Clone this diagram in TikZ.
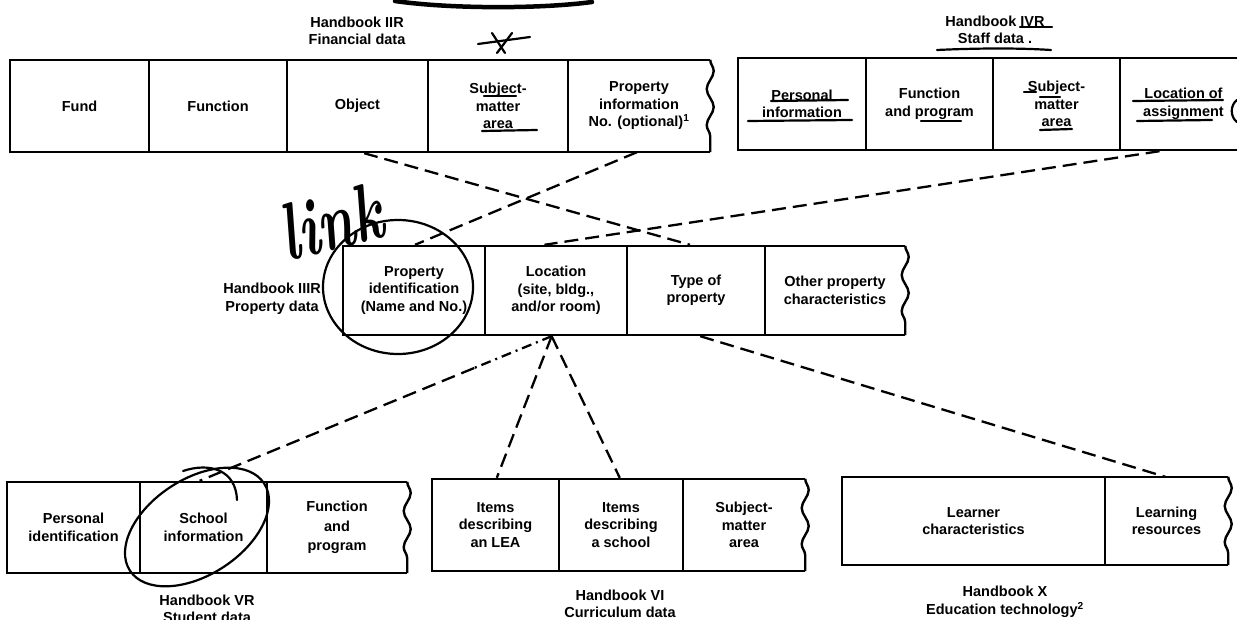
\documentclass[tikz,border=0pt]{standalone}
\usepackage{fontspec}
\setsansfont{Liberation Sans}
\usetikzlibrary{calc,decorations.pathmorphing}

\tikzset{
  lbl/.style={font=\sffamily\bfseries\fontsize{14.5}{17.5}\selectfont, align=center, inner sep=0pt},
  cell/.style={lbl, draw, line width=2.4pt},
  opencell/.style={lbl},
  rim/.style={line width=2.4pt, line join=miter},
  waveedge/.style={line width=2.4pt, decorate, decoration={snake, segment length=36pt, amplitude=3.5pt}},
  dashlink/.style={line width=2.3pt, dash pattern=on 14pt off 7pt},
  dotlink/.style={line width=2.3pt, dash pattern=on 10pt off 5pt on 2pt off 5pt},
  inkline/.style={line width=2.2pt, line cap=round, line join=round},
  hand/.style={font=\rmfamily\bfseries\itshape\fontsize{56}{56}\selectfont, inner sep=0pt}
}

\begin{document}
\begin{tikzpicture}[x=1pt, y=-1pt]
\fill[white] (0,0) rectangle (1237,620);
\useasboundingbox (0,0) rectangle (1237,620);

% ---- Handbook IIR: financial data
\node[lbl] (finT) at (357,31) {Handbook IIR\\Financial data};
\begin{scope}[every node/.append style={minimum height=92pt}]
\node[cell, minimum width=139pt] (fund) at (79.5,106) {Fund};
\node[cell, minimum width=138pt] (func) at (218,106) {Function};
\node[cell, minimum width=141pt] (obj) at (357.5,106) {Object};
\node[cell, minimum width=140pt] (subj) at (498,106) {Subject-\\matter\\area};
\node[opencell, minimum width=142pt] (propinfo) at (639,106) {Property\\information\\No. (optional)\textsuperscript{1}};
\end{scope}
\draw[rim] (propinfo.north east) -- (propinfo.north west) -- (propinfo.south west) -- (propinfo.south east);
\draw[waveedge] (propinfo.north east) -- (propinfo.south east);

% ---- Handbook IVR: staff data
\node[lbl] (staffT) at (995,30) {Handbook IVR\\Staff data .};
\begin{scope}[every node/.append style={minimum height=92pt}]
\node[cell, minimum width=128pt] (pers) at (802,104) {Personal\\information};
\node[cell, minimum width=127pt] (fprog) at (929.5,104) {Function\\and program};
\node[cell, minimum width=127pt] (subjb) at (1056.5,104) {Subject-\\matter\\area};
\node[cell, minimum width=127pt] (locas) at (1183.5,104) {Location of\\assignment};
\end{scope}

% ---- Handbook IIIR: property data
\node[lbl, anchor=east] (propT) at (321,299) {Handbook IIIR\\Property data};
\begin{scope}[every node/.append style={minimum height=89pt}]
\node[cell, minimum width=142pt] (pid) at (414,290.5) {Property\\identification\\(Name and No.)};
\node[cell, minimum width=142pt] (ploc) at (556,290.5) {Location\\(site, bldg.,\\and/or room)};
\node[cell, minimum width=138pt] (ptype) at (696,290.5) {Type of\\property};
\node[opencell, minimum width=140pt] (pother) at (835,290.5) {Other property\\characteristics};
\end{scope}
\draw[rim] (pother.north east) -- (pother.north west) -- (pother.south west) -- (pother.south east);
\draw[waveedge] (pother.north east) -- (pother.south east);

% ---- Handbook VR: student data
\node[lbl] (stuT) at (207,609) {Handbook VR\\Student data};
\begin{scope}[every node/.append style={minimum height=91pt}]
\node[cell, minimum width=133pt] (bpers) at (73.5,527.5) {Personal\\identification};
\node[cell, minimum width=127pt] (bschool) at (203.5,527.5) {School\\information};
\node[opencell, minimum width=140pt] (bfunc) at (337,527.5) {Function\\[2pt]and\\[2pt]program};
\end{scope}
\draw[rim] (bfunc.north east) -- (bfunc.north west) -- (bfunc.south west) -- (bfunc.south east);
\draw[waveedge] (bfunc.north east) -- (bfunc.south east);

% ---- Handbook VI: curriculum data
\node[lbl] (curT) at (620,604) {Handbook VI\\Curriculum data};
\begin{scope}[every node/.append style={minimum height=92pt}]
\node[cell, minimum width=127pt] (lea) at (495.5,525) {Items\\describing\\an LEA};
\node[cell, minimum width=124pt] (sch) at (621,525) {Items\\describing\\a school};
\node[opencell, minimum width=122pt] (csubj) at (744,525) {Subject-\\matter\\area};
\end{scope}
\draw[rim] (csubj.north east) -- (csubj.north west) -- (csubj.south west) -- (csubj.south east);
\draw[waveedge] (csubj.north east) -- (csubj.south east);

% ---- Handbook X: education technology
\node[lbl] (techT) at (1005,602) {Handbook X\\Education technology\textsuperscript{2}};
\begin{scope}[every node/.append style={minimum height=88pt}]
\node[cell, minimum width=263pt] (learner) at (973.5,521) {Learner\\characteristics};
\node[opencell, minimum width=123pt] (lres) at (1166.5,521) {Learning\\resources};
\end{scope}
\draw[rim] (lres.north east) -- (lres.north west) -- (lres.south west) -- (lres.south east);
\draw[waveedge] (lres.north east) -- (lres.south east);

% ---- connector end points on the cell borders
\coordinate (objS)   at ($(obj.south west)!0.546!(obj.south east)$);
\coordinate (typeN)  at ($(ptype.north west)!0.457!(ptype.north east)$);
\coordinate (infoS)  at ($(propinfo.south west)!0.486!(propinfo.south east)$);
\coordinate (pidN)   at ($(pid.north west)!0.507!(pid.north east)$);
\coordinate (locasS) at ($(locas.south west)!0.315!(locas.south east)$);
\coordinate (plocN)  at ($(ploc.north west)!0.42!(ploc.north east)$);
\coordinate (plocS)  at ($(ploc.south west)!0.47!(ploc.south east)$);
\coordinate (schoolN) at ($(bschool.north west)!0.47!(bschool.north east)$);
\coordinate (leaN)   at ($(lea.north west)!0.51!(lea.north east)$);
\coordinate (schN)   at ($(sch.north west)!0.49!(sch.north east)$);
\coordinate (typeS)  at ($(ptype.south west)!0.53!(ptype.south east)$);
\coordinate (lresN)  at ($(lres.north west)!0.49!(lres.north east)$);
\coordinate (bend)   at ($(plocS)!0.22!(schoolN)$);

% ---- dashed links between the handbooks
\draw[dashlink] (objS) -- (typeN);
\draw[dashlink] (infoS) -- (pidN);
\draw[dashlink] (locasS) -- (plocN);
\draw[dotlink] (plocS) -- (bend);
\draw[dashlink] (bend) -- (schoolN);
\draw[dashlink] (plocS) -- (leaN);
\draw[dashlink] (plocS) -- (schN);
\draw[dashlink] (typeS) -- (lresN);

% ---- pen marks
\draw[line width=4.5pt, line cap=round] (395,1) .. controls (450,9) and (540,9) .. (592,2);
\draw[inkline] (478,44) -- (530,37);
\draw[inkline] (492,33) -- (505,53);
\draw[inkline] (512,33) -- (497,53);
% underlines in the financial and staff rows
\draw[inkline] (484,96) -- (516,96);
\draw[inkline] (482,131) -- (537,130);
\draw[inkline] (1020,27) -- (1052,27);
\draw[inkline] (937,50) .. controls (980,48) and (1020,48) .. (1051,50);
\draw[inkline] (771,101) -- (848,100);
\draw[inkline] (748,121) -- (852,120);
\draw[inkline] (921,121) -- (961,121);
\draw[inkline] (1024,92) -- (1036,92);
\draw[inkline] (1040,97) -- (1060,97);
\draw[inkline] (1040,130) -- (1072,129);
\draw[inkline] (1133,101) -- (1223,100);
\draw[inkline] (1137,121) -- (1212,120);
\draw[inkline] (1237,100) .. controls (1230,105) and (1230,117) .. (1237,122);
% handwritten word and loops
\node[hand, rotate=14] (linkword) at (331,222) {\scalebox{1}[1.45]{link}};
\draw[inkline, line width=2.2pt] (398,287) ellipse [x radius=75, y radius=67];
\draw[inkline, line width=2.2pt, rotate around={33:(197,527)}] (197,527) ellipse [x radius=80, y radius=48];
\draw[inkline, line width=2.2pt] (183,471) .. controls (210,462) and (236,470) .. (237,500);
\end{tikzpicture}
\end{document}
